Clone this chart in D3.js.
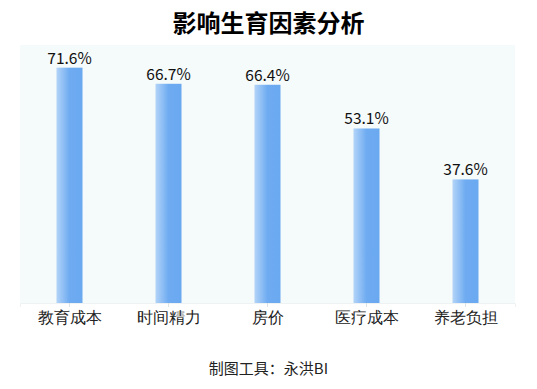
<!DOCTYPE html>
<html>
<head>
<meta charset="utf-8">
<script src="https://cdn.jsdelivr.net/npm/d3@7"></script>
<style>
  body { margin: 0; background: #fff; }
  svg { display: block; font-family: "Noto Sans CJK SC", "Noto Sans", sans-serif; }
</style>
</head>
<body>
<div id="chart"></div>
<script>
// data
const categories = ['教育成本', '时间精力', '房价', '医疗成本', '养老负担'];
const values = [71.6, 66.7, 66.4, 53.1, 37.6];
const labels = ['71.6%', '66.7%', '66.4%', '53.1%', '37.6%'];

const width = 537, height = 389;
const margin = { top: 45, right: 22, bottom: 86, left: 20 };
const innerW = width - margin.left - margin.right;
const innerH = height - margin.top - margin.bottom;

const svg = d3.select('#chart').append('svg')
  .attr('width', width)
  .attr('height', height);

const defs = svg.append('defs');
const grad = defs.append('linearGradient')
  .attr('id', 'barGrad')
  .attr('x1', '0%').attr('x2', '100%').attr('y1', '0%').attr('y2', '0%');
grad.append('stop').attr('offset', '0%').attr('stop-color', '#b3d4f8');
grad.append('stop').attr('offset', '50%').attr('stop-color', '#6eabf1');
grad.append('stop').attr('offset', '100%').attr('stop-color', '#6aa8f0');

// title
svg.append('text')
  .attr('x', width / 2).attr('y', 32)
  .attr('text-anchor', 'middle')
  .attr('font-size', 24).attr('font-weight', 'bold')
  .attr('fill', '#000')
  .text('影响生育因素分析');

const g = svg.append('g').attr('transform', `translate(${margin.left},${margin.top})`);

const x = d3.scaleBand().domain(categories).range([0, innerW]).padding(0);
const y = d3.scaleLinear().domain([0, 78.5]).range([innerH, 0]);

// plot background
g.append('rect')
  .attr('width', innerW).attr('height', innerH)
  .attr('fill', '#f5fafa');

// x axis
const xAxis = g.append('g')
  .attr('transform', `translate(0,${innerH})`)
  .call(d3.axisBottom(x).tickSize(4).tickPadding(5));
xAxis.select('.domain').attr('stroke', '#eef2f2');
xAxis.selectAll('.tick line').attr('stroke', '#dde3e3');
xAxis.selectAll('.tick text')
  .attr('font-size', 16)
  .attr('fill', '#222');

const barW = 26;

g.selectAll('.bar')
  .data(values)
  .join('rect')
  .attr('class', 'bar')
  .attr('x', (d, i) => x(categories[i]) + x.bandwidth() / 2 - barW / 2)
  .attr('y', d => y(d))
  .attr('width', barW)
  .attr('height', d => innerH - y(d))
  .attr('fill', 'url(#barGrad)');

g.selectAll('.val')
  .data(values)
  .join('text')
  .attr('class', 'val')
  .attr('x', (d, i) => x(categories[i]) + x.bandwidth() / 2)
  .attr('y', d => y(d) - 4)
  .attr('text-anchor', 'middle')
  .attr('font-size', 15.5)
  .attr('fill', '#111')
  .text((d, i) => labels[i]);

// footer
svg.append('text')
  .attr('x', width / 2).attr('y', 374)
  .attr('text-anchor', 'middle')
  .attr('font-size', 15)
  .attr('fill', '#222')
  .text('制图工具：永洪BI');
</script>
</body>
</html>
